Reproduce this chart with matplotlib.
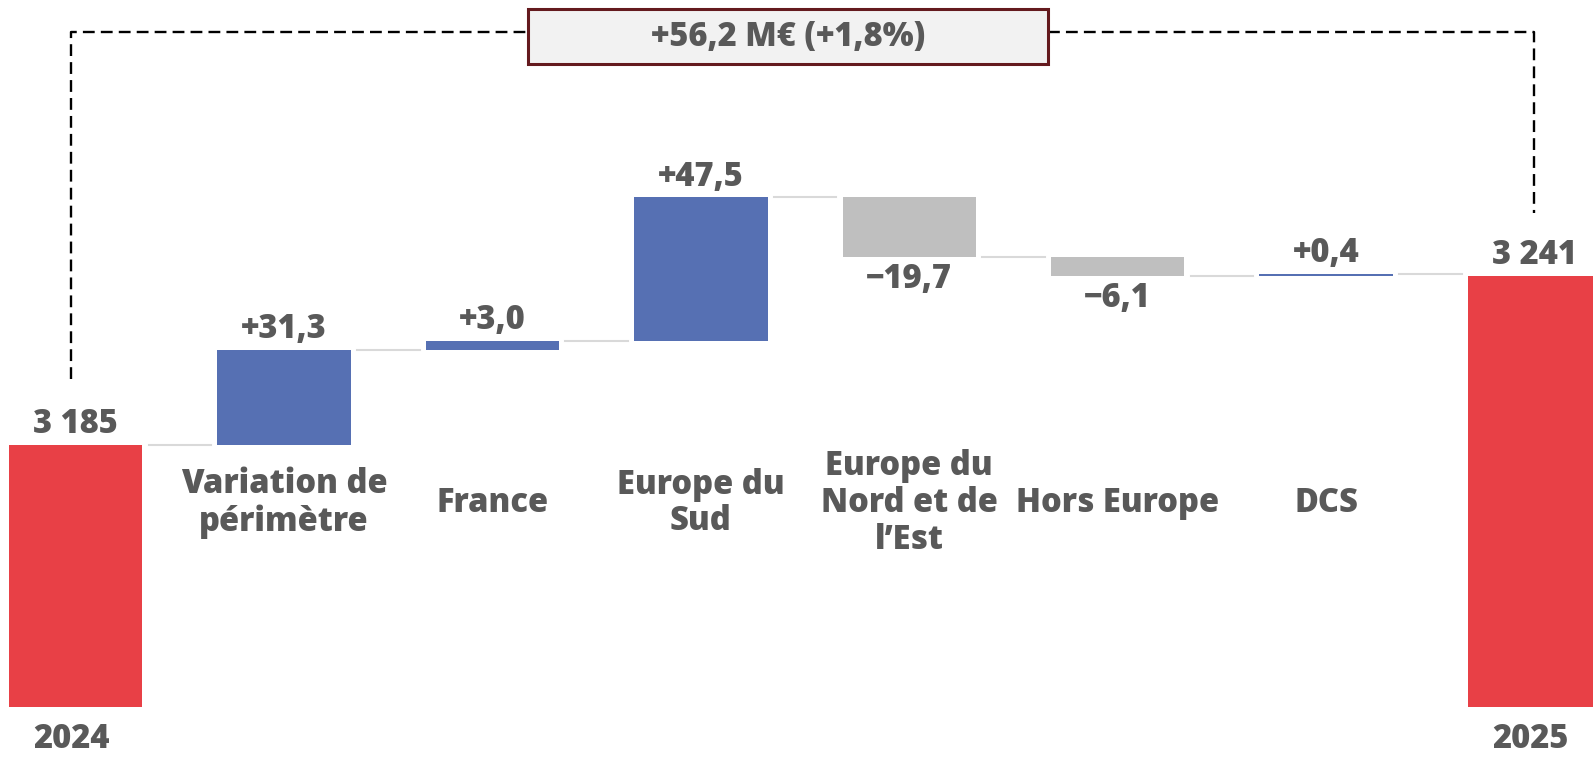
"""Waterfall chart: revenue bridge 2024 -> 2025."""

import matplotlib
matplotlib.use("Agg")
import matplotlib.pyplot as plt
from matplotlib.patches import Rectangle


categories = [
    "2024", "Variation de\npérimètre", "France", "Europe du\nSud",
    "Europe du\nNord et de\nl’Est", "Hors Europe", "DCS", "2025",
]
start_value = 3185
end_value = 3241
changes = [31.3, 3.0, 47.5, -19.7, -6.1, 0.4]
change_texts = ["+31,3", "+3,0", "+47,5", "−19,7", "−6,1", "+0,4"]
total_texts = ["3 185", "3 241"]
bridge_text = "+56,2 M€ (+1,8%)"

RED = "#E84046"
BLUE = "#5670B3"
GREY = "#BFBFBF"
CONNECTOR = "#D9D9D9"
TEXT = "#595959"

BASE = 3098.5      # visual floor of the total bars (broken axis)
WIDTH = 0.64
FS = 23.5
WEIGHT = 800

plt.rcParams["font.family"] = ["Open Sans", "DejaVu Sans"]

fig = plt.figure(figsize=(15.93, 7.6), dpi=100)
ax = fig.add_axes([0, 0, 1, 1])
ax.set_xlim(-0.363, 7.281)
ax.set_ylim(3081, 3332)
ax.axis("off")

n = len(categories)
last = n - 1

# Total bars at both ends.
ax.bar([0, last], [start_value - BASE, end_value - BASE], bottom=BASE,
       width=WIDTH, color=RED, zorder=2)
for x, val, txt in zip([0, last], [start_value, end_value], total_texts):
    ax.annotate(txt, (x, val), xytext=(0, 15), textcoords="offset points",
                ha="center", va="center", fontsize=FS, fontweight=WEIGHT, color=TEXT)

# Floating change bars.
levels = [start_value]
level = start_value
for i, d in enumerate(changes, start=1):
    bottom = min(level, level + d)
    ax.bar(i, abs(d), bottom=bottom, width=WIDTH,
           color=BLUE if d > 0 else GREY, zorder=2)
    if d > 0:
        ax.annotate(change_texts[i - 1], (i, level + d), xytext=(0, 15),
                    textcoords="offset points", ha="center", va="center",
                    fontsize=FS, fontweight=WEIGHT, color=TEXT)
    else:
        ax.annotate(change_texts[i - 1], (i, level + d), xytext=(0, -16),
                    textcoords="offset points", ha="center", va="center",
                    fontsize=FS, fontweight=WEIGHT, color=TEXT)
    level += d
    levels.append(level)

# Connector lines between consecutive bars.
for i in range(last):
    ax.plot([i + 0.35, i + 0.65], [levels[i], levels[i]],
            color=CONNECTOR, lw=1.5, zorder=1)

# Category labels (middle) and year labels (bottom).
for i in range(1, last):
    ax.text(i, 3165.9, categories[i], ha="center", va="center", fontsize=FS,
            fontweight=WEIGHT, color=TEXT, linespacing=1.1)
for x in (0, last):
    ax.text(x - 0.02, 3087.8, categories[x], ha="center", va="center", fontsize=FS,
            fontweight=WEIGHT, color=TEXT)

# Bracket with the overall change.
y_top = 3321.3
box_left, box_right = 2.171, 4.666
dash = (0, (5, 2.6))
ax.plot([-0.02, -0.02, box_left], [start_value + 21.8, y_top, y_top],
        color="black", lw=1.7, linestyle=dash, zorder=1)
ax.plot([box_right, last, last], [y_top, y_top, end_value + 20.6],
        color="black", lw=1.7, linestyle=dash, zorder=1)
ax.add_patch(Rectangle((box_left, 3310.7), box_right - box_left, 18.2,
                       facecolor="#F2F2F2", edgecolor="#641A1E", lw=2.2, zorder=3))
ax.text((box_left + box_right) / 2, 3319.7, bridge_text, ha="center", va="center",
        fontsize=FS, fontweight=WEIGHT, color=TEXT, zorder=4)

fig.savefig("out.png", dpi=100)
